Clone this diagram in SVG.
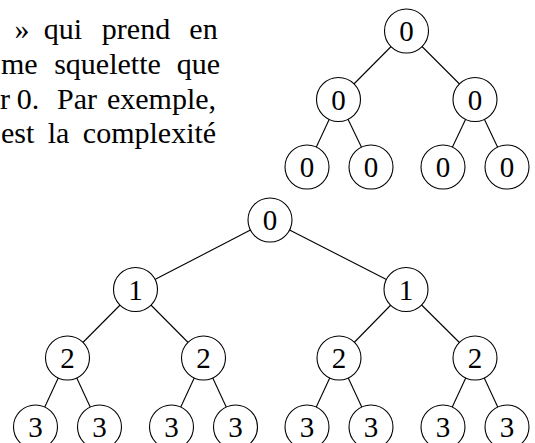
<svg xmlns="http://www.w3.org/2000/svg" width="535" height="443" viewBox="0 0 535 443">
<style>
  .body { font-family: "Liberation Serif", "DejaVu Serif", serif; font-size: 30px; fill: #000; text-anchor: middle; }
  .start { text-anchor: start; }
  .node circle { fill: #fff; stroke: #000; stroke-width: 1.1; }
  .node text { font-family: "Liberation Serif", "DejaVu Serif", serif; font-size: 29px; fill: #000; text-anchor: middle; }
  .edges line { stroke: #000; stroke-width: 1.1; }
</style>
<rect width="535" height="443" fill="#fff"/>
<g id="paragraph">
  <text class="body" y="39"><tspan x="22">»</tspan><tspan x="63">qui</tspan><tspan x="136">prend</tspan><tspan x="203.5">en</tspan></text>
  <text class="body" y="74"><tspan x="1" class="start">me</tspan><tspan x="107.5">squelette</tspan><tspan x="198.5">que</tspan></text>
  <text class="body" y="108.5"><tspan x="0" class="start">r</tspan><tspan x="28">0.</tspan><tspan x="77">Par</tspan><tspan x="161.5">exemple,</tspan></text>
  <text class="body" y="143"><tspan x="1" class="start">est</tspan><tspan x="58.5">la</tspan><tspan x="149.5">complexité</tspan></text>
</g>
<g id="connectors" class="edges">
  <line x1="406.5" y1="31" x2="338.5" y2="99.5"/>
  <line x1="406.5" y1="31" x2="475" y2="99.5"/>
  <line x1="338.5" y1="99.5" x2="307" y2="167"/>
  <line x1="338.5" y1="99.5" x2="371" y2="167"/>
  <line x1="475" y1="99.5" x2="443" y2="167"/>
  <line x1="475" y1="99.5" x2="507" y2="167"/>
  <line x1="270" y1="220" x2="135.5" y2="289.5"/>
  <line x1="270" y1="220" x2="406" y2="289.5"/>
  <line x1="135.5" y1="289.5" x2="67.5" y2="358"/>
  <line x1="135.5" y1="289.5" x2="203.5" y2="358"/>
  <line x1="406" y1="289.5" x2="339" y2="358"/>
  <line x1="406" y1="289.5" x2="475" y2="358"/>
  <line x1="67.5" y1="358" x2="35.5" y2="427"/>
  <line x1="67.5" y1="358" x2="99.5" y2="427"/>
  <line x1="203.5" y1="358" x2="171.5" y2="427"/>
  <line x1="203.5" y1="358" x2="235.5" y2="427"/>
  <line x1="339" y1="358" x2="307" y2="427"/>
  <line x1="339" y1="358" x2="371" y2="427"/>
  <line x1="475" y1="358" x2="443" y2="427"/>
  <line x1="475" y1="358" x2="507" y2="427"/>
</g>
<g id="t0" class="node"><circle cx="406.5" cy="31" r="22"/><text x="406.5" y="41">0</text></g>
<g id="t1" class="node"><circle cx="338.5" cy="99.5" r="22"/><text x="338.5" y="109.5">0</text></g>
<g id="t2" class="node"><circle cx="475" cy="99.5" r="22"/><text x="475" y="109.5">0</text></g>
<g id="t3" class="node"><circle cx="307" cy="167" r="22"/><text x="307" y="177">0</text></g>
<g id="t4" class="node"><circle cx="371" cy="167" r="22"/><text x="371" y="177">0</text></g>
<g id="t5" class="node"><circle cx="443" cy="167" r="22"/><text x="443" y="177">0</text></g>
<g id="t6" class="node"><circle cx="507" cy="167" r="22"/><text x="507" y="177">0</text></g>
<g id="b0" class="node"><circle cx="270" cy="220" r="22"/><text x="270" y="230">0</text></g>
<g id="b1" class="node"><circle cx="135.5" cy="289.5" r="22"/><text x="135.5" y="299.5">1</text></g>
<g id="b2" class="node"><circle cx="406" cy="289.5" r="22"/><text x="406" y="299.5">1</text></g>
<g id="b3" class="node"><circle cx="67.5" cy="358" r="22"/><text x="67.5" y="368">2</text></g>
<g id="b4" class="node"><circle cx="203.5" cy="358" r="22"/><text x="203.5" y="368">2</text></g>
<g id="b5" class="node"><circle cx="339" cy="358" r="22"/><text x="339" y="368">2</text></g>
<g id="b6" class="node"><circle cx="475" cy="358" r="22"/><text x="475" y="368">2</text></g>
<g id="b7" class="node"><circle cx="35.5" cy="427" r="22"/><text x="35.5" y="437">3</text></g>
<g id="b8" class="node"><circle cx="99.5" cy="427" r="22"/><text x="99.5" y="437">3</text></g>
<g id="b9" class="node"><circle cx="171.5" cy="427" r="22"/><text x="171.5" y="437">3</text></g>
<g id="b10" class="node"><circle cx="235.5" cy="427" r="22"/><text x="235.5" y="437">3</text></g>
<g id="b11" class="node"><circle cx="307" cy="427" r="22"/><text x="307" y="437">3</text></g>
<g id="b12" class="node"><circle cx="371" cy="427" r="22"/><text x="371" y="437">3</text></g>
<g id="b13" class="node"><circle cx="443" cy="427" r="22"/><text x="443" y="437">3</text></g>
<g id="b14" class="node"><circle cx="507" cy="427" r="22"/><text x="507" y="437">3</text></g>
</svg>
